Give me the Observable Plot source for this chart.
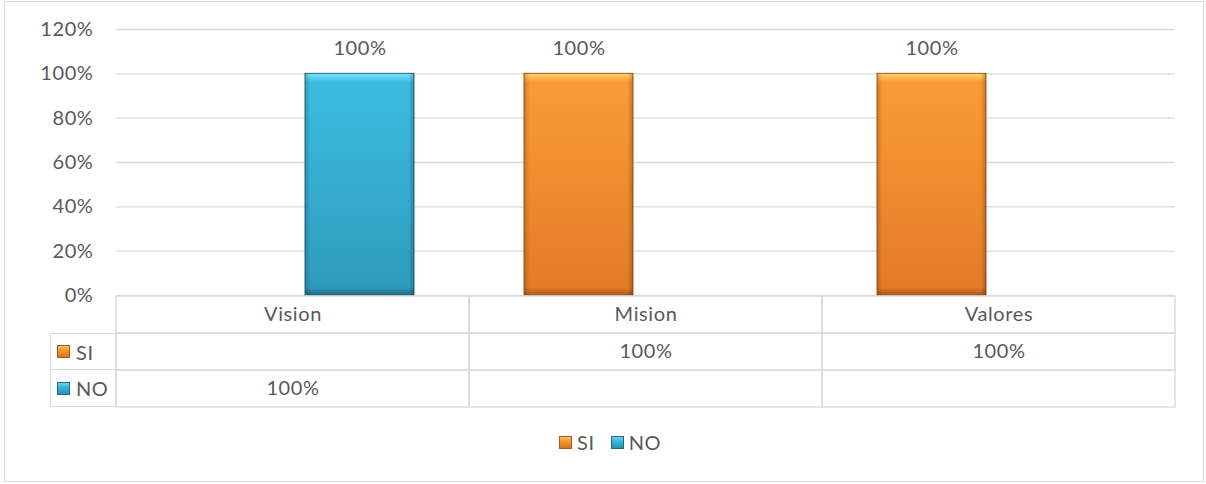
<!DOCTYPE html>
<html>
<head>
<meta charset="utf-8">
<script src="https://cdn.jsdelivr.net/npm/d3@7"></script>
<script src="https://cdn.jsdelivr.net/npm/@observablehq/plot@0.6"></script>
<style>
  html, body { margin: 0; padding: 0; background: #fff; }
  #wrap { position: relative; width: 1206px; height: 484px; overflow: hidden; font-family: Lato, "Open Sans", sans-serif; color: #595959; letter-spacing: 0.6px; }
  #frame { position: absolute; left: 4px; top: 1px; width: 1200px; height: 481px; box-sizing: border-box; border: 1.5px solid #d9d9d9; }
  .layer { position: absolute; left: 0; }
  .key { position: absolute; box-sizing: border-box; border: 1.3px solid #d9d9d9; display: flex; align-items: center; font-size: 20px; }
  .sw { display: inline-block; width: 13px; height: 13px; box-sizing: border-box; }
  .sw.SI { background: linear-gradient(to bottom, #fcc35a 0%, #f59a35 35%, #d9731f 100%); border: 1px solid #a8591b; }
  .sw.NO { background: linear-gradient(to bottom, #66d6f0 0%, #3bb9dc 35%, #2a8fb0 100%); border: 1px solid #1f6a82; }
  #legend { position: absolute; top: 430px; left: 559px; display: flex; align-items: center; font-size: 20px; }
</style>
</head>
<body>
<div id="wrap"><div id="frame"></div></div>
<script>
// ---- data ----
const categories = ["Vision", "Mision", "Valores"];
const series = ["SI", "NO"];
const siValues = [null, 1, 1];
const noValues = [1, null, null];
const yTicks = [0, 0.2, 0.4, 0.6, 0.8, 1.0, 1.2];
const tableRows = ["header", "SI", "NO"];

const pct = d3.format(".0%");
const valuesBySeries = {SI: siValues, NO: noValues};
const all = categories.flatMap((c, i) => series.map(s => ({category: c, series: s, value: valuesBySeries[s][i]})));
const bars = all.filter(d => d.value != null);

const gray = "#d9d9d9";
const txt = "#595959";
const font = "Lato, 'Open Sans', sans-serif";
const fs = 20;

const wrap = document.getElementById("wrap");

// ---- chart ----
const chart = Plot.plot({
  width: 1206, height: 310,
  marginLeft: 115, marginRight: 30, marginTop: 29, marginBottom: 15,
  style: {fontFamily: font, fontSize: fs + "px", color: txt, background: "transparent", overflow: "visible", letterSpacing: "0.6px"},
  fx: {domain: categories, padding: 0, axis: null},
  x: {domain: series, paddingInner: 0.185, paddingOuter: 0.4025, axis: null},
  y: {domain: [0, 1.2], axis: null},
  marks: [
    Plot.gridY(yTicks, {stroke: gray, strokeOpacity: 1, strokeWidth: 1.3}),
    Plot.axisY(yTicks, {tickFormat: pct, tickSize: 0, tickPadding: 23, label: null, fill: txt, fontSize: fs}),
    Plot.barY(bars.filter(d => d.series === "SI"), {fx: "category", x: "series", y: "value", fill: "url(#gSI)", stroke: "#a8591b", strokeWidth: 1}),
    Plot.barY(bars.filter(d => d.series === "NO"), {fx: "category", x: "series", y: "value", fill: "url(#gNO)", stroke: "#1f6a82", strokeWidth: 1}),
    Plot.barY(bars, {fx: "category", x: "series", y: "value", fill: "url(#gSide)"}),
    Plot.text(bars, {fx: "category", x: "series", y: "value", text: d => pct(d.value), dy: -25, fill: txt, fontSize: fs})
  ]
});
chart.classList.add("layer");
chart.style.top = "0px";
wrap.appendChild(chart);

// gradients
const defs = d3.select(chart).insert("defs", ":first-child");
function vgrad(id, stops) {
  const g = defs.append("linearGradient").attr("id", id).attr("x1", 0).attr("y1", 0).attr("x2", 0).attr("y2", 1);
  stops.forEach(([o, c, a]) => g.append("stop").attr("offset", o).attr("stop-color", c).attr("stop-opacity", a ?? 1));
}
vgrad("gSI", [["0", "#fdd36a"], ["0.025", "#fbb14a"], ["0.04", "#f99b35"], ["0.5", "#ef8c2e"], ["0.965", "#e37b27"], ["0.985", "#c8671f"], ["1", "#a8591b"]]);
vgrad("gNO", [["0", "#7fe0f6"], ["0.025", "#55cdec"], ["0.04", "#3bbde0"], ["0.5", "#35adcf"], ["0.965", "#2e9bbd"], ["0.985", "#25809c"], ["1", "#1f6a82"]]);
const side = defs.append("linearGradient").attr("id", "gSide").attr("x1", 0).attr("y1", 0).attr("x2", 1).attr("y2", 0);
[["0", "#000", 0.18], ["0.05", "#000", 0], ["0.95", "#000", 0], ["1", "#000", 0.22]].forEach(([o, c, a]) =>
  side.append("stop").attr("offset", o).attr("stop-color", c).attr("stop-opacity", a));

// ---- data table ----
const cells = categories.flatMap((c, i) => [
  {col: c, row: "header", text: c},
  {col: c, row: "SI", text: siValues[i] == null ? "" : pct(siValues[i])},
  {col: c, row: "NO", text: noValues[i] == null ? "" : pct(noValues[i])}
]);
const tableTop = 294;
const table = Plot.plot({
  width: 1206, height: 116,
  marginLeft: 115, marginRight: 30, marginTop: 1, marginBottom: 2,
  style: {fontFamily: font, fontSize: fs + "px", color: txt, background: "transparent", overflow: "visible", letterSpacing: "0.6px"},
  x: {domain: categories, padding: 0, axis: null},
  y: {domain: tableRows, padding: 0, axis: null},
  marks: [
    Plot.cell(cells, {x: "col", y: "row", fill: "none", stroke: gray, strokeWidth: 1.3}),
    Plot.text(cells, {x: "col", y: "row", text: "text", fill: txt, fontSize: fs})
  ]
});
table.classList.add("layer");
table.style.top = tableTop + "px";
wrap.appendChild(table);

// key column, aligned with the table's row scale
const yRow = table.scale("y");
series.forEach(s => {
  const k = document.createElement("div");
  k.className = "key";
  k.style.left = "50px";
  k.style.width = "66px";
  k.style.top = (tableTop + yRow.apply(s)) + "px";
  k.style.height = yRow.bandwidth + "px";
  k.innerHTML = `<span class="sw ${s}" style="margin-left:6px;margin-right:6px"></span><span>${s}</span>`;
  if (s === "NO") k.style.borderTop = "none";
  wrap.appendChild(k);
});

// ---- legend ----
const legend = document.createElement("div");
legend.id = "legend";
legend.innerHTML = series.map((s, i) =>
  `<span class="sw ${s}" style="margin-left:${i ? 16 : 0}px;margin-right:5px"></span><span>${s}</span>`).join("");
wrap.appendChild(legend);
</script>
</body>
</html>
